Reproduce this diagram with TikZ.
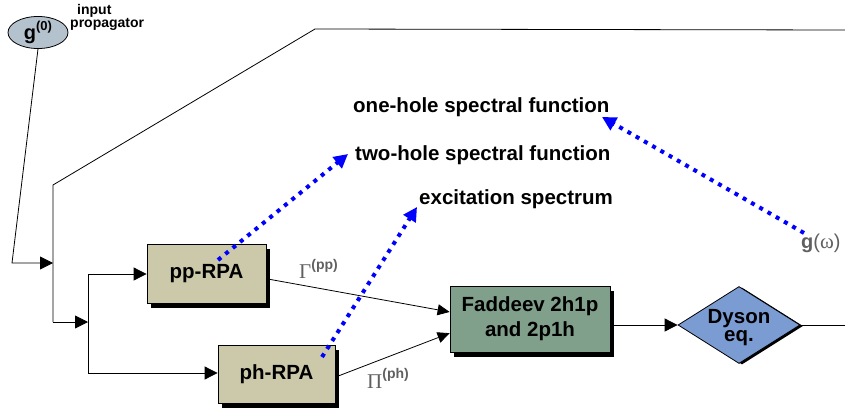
\documentclass[tikz,border=0pt]{standalone}
\usepackage{fontspec}
\setmainfont{Liberation Sans}
\newfontfamily\greekserif{Liberation Serif}
\usetikzlibrary{arrows.meta,shapes.geometric,shadows}

\definecolor{rpafill}{RGB}{204,200,170}
\definecolor{fadfill}{RGB}{128,160,140}
\definecolor{dysfill}{RGB}{123,155,211}
\definecolor{ellfill}{RGB}{180,194,206}
\definecolor{labgray}{RGB}{96,96,96}
\definecolor{dotblue}{RGB}{0,0,255}

\tikzset{
  bigtext/.style={font=\fontsize{20.5}{24}\selectfont\bfseries},
  shadowbox/.style={draw=black, line width=0.8pt, inner sep=0pt, align=center, bigtext,
    drop shadow={shadow xshift=4pt, shadow yshift=-5pt, fill=black, opacity=1}},
  conn/.style={line width=0.8pt, -{Triangle[length=13pt,width=13pt]}},
  smallconn/.style={line width=0.8pt, -{Triangle[length=12pt,width=11pt]}},
  plain/.style={line width=0.8pt},
  dotarrow/.style={draw=dotblue, line width=4pt, dash pattern=on 4pt off 5.5pt,
    -{Triangle[length=14pt,width=14pt]}},
  gtext/.style={text=labgray, inner sep=0pt},
}

\begin{document}
\begin{tikzpicture}[x=1pt,y=-1pt]
\useasboundingbox (0,0) rectangle (845,409);

% input propagator
\node[ellipse, draw=black, line width=0.8pt, fill=ellfill, minimum width=60pt,
      minimum height=29pt, inner sep=0pt] (ell) at (38,32.5)
  {\bfseries\fontsize{20}{24}\selectfont g\raisebox{9pt}{\fontsize{13}{13}\selectfont(0)}};
\node[anchor=north west, inner sep=0pt, align=left,
      font=\fontsize{14}{13}\selectfont\bfseries] (inlab) at (70,4.5)
  {\hspace*{7pt}input\\propagator};

% processing blocks
\node[shadowbox, fill=rpafill, minimum width=119pt, minimum height=59pt] (pp) at (206.5,273.5) {pp-RPA};
\node[shadowbox, fill=rpafill, minimum width=117pt, minimum height=58pt] (ph) at (276.5,374) {ph-RPA};
\node[shadowbox, fill=fadfill, minimum width=160pt, minimum height=66pt,
      font=\fontsize{20.5}{25}\selectfont\bfseries] (fad) at (530,319) {Faddeev 2h1p\\and 2p1h};
\node[diamond, draw=black, line width=0.8pt, fill=dysfill, aspect=1.58,
      minimum width=122pt, minimum height=77pt, inner sep=0pt,
      drop shadow={shadow xshift=3pt, shadow yshift=-1pt, fill=black, opacity=1}] (dy) at (739,325) {};
\node[align=center, inner sep=0pt, yshift=-3pt,
      font=\fontsize{20.5}{18}\selectfont\bfseries] (dytext) at (dy.center) {Dyson\\eq.};

% routing points
\coordinate (c1) at (12,263);
\coordinate (j1) at (53,263);
\coordinate (c2) at (53,185);
\coordinate (c3) at (315,29);
\coordinate (c4) at (845,30);
\coordinate (c5) at (53,322);
\coordinate (j2) at (88,322);
\coordinate (c6) at (88,274);
\coordinate (c7) at (88,373);
\coordinate (rend) at (845,325);

% feedback loop and branches
\draw[conn] (ell.south) -- (c1) -- (j1);
\draw[plain] (c4) -- (c3) -- (c2) -- (c5);
\draw[conn] (c5) -- (j2);
\draw[plain] (c6) -- (c7);
\draw[conn] (c6) -- (pp.west |- c6);
\draw[conn] (c7) -- (ph.west |- c7);
\draw[smallconn] (pp.-5) -- (fad.175);
\draw[smallconn] (ph.-3) -- (fad.-170);
\draw[conn] (fad.east |- dy) -- (dy.west);
\draw[plain] (dy.east) -- (rend);

% interaction labels
\node[gtext, anchor=base west] (gam) at (299,278)
  {{\greekserif\fontsize{21}{21}\selectfont Γ}\raisebox{9pt}{\bfseries\fontsize{14}{14}\selectfont(pp)}};
\node[gtext, anchor=base west] (pi) at (367,388)
  {{\greekserif\fontsize{21}{21}\selectfont Π}\raisebox{10pt}{\bfseries\fontsize{14}{14}\selectfont(ph)}};

% outputs
\node[bigtext, anchor=base west, inner sep=0pt] (oneh) at (353,113) {one-hole spectral function};
\node[bigtext, anchor=base west, inner sep=0pt] (twoh) at (355,160) {two-hole spectral function};
\node[bigtext, anchor=base west, inner sep=0pt] (exc) at (419,204) {excitation spectrum};
\node[gtext, anchor=base west, font=\fontsize{20}{24}\selectfont] (gw) at (801,248)
  {\textbf{g}({\greekserif\fontsize{21}{24}\selectfont ω})};

% output pointers
\coordinate (s1) at (218,260);
\coordinate (t1) at (348,154);
\coordinate (s2) at (322,357);
\coordinate (t2) at (417,207);
\coordinate (s3) at (804,233);
\coordinate (t3) at (602,117);
\draw[dotarrow] (s1) -- (t1);
\draw[dotarrow] (s2) -- (t2);
\draw[dotarrow] (s3) -- (t3);
\end{tikzpicture}
\end{document}
